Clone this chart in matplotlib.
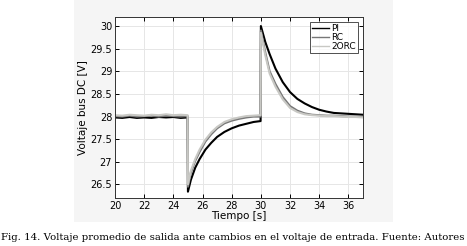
import matplotlib.pyplot as plt
from matplotlib.ticker import FormatStrFormatter

# time instants (s)
t_pi = [20, 20.5, 21, 21.5, 22, 22.5, 23, 23.5, 24, 24.5, 24.98, 25.0, 25.2, 25.5, 25.8,
        26.2, 26.6, 27.0, 27.5, 28.0, 28.5, 29.0, 29.5, 29.98, 30.0, 30.3, 30.6, 31.0,
        31.5, 32.0, 32.5, 33.0, 33.5, 34.0, 34.5, 35.0, 35.5, 36.0, 36.5, 37.0]
v_pi = [27.98, 27.97, 27.99, 27.97, 27.98, 27.97, 27.99, 27.98, 27.99, 27.97, 27.98, 26.34,
        26.60, 26.87, 27.06, 27.27, 27.42, 27.55, 27.66, 27.74, 27.80, 27.84, 27.88, 27.90,
        30.00, 29.65, 29.38, 29.06, 28.76, 28.54, 28.39, 28.29, 28.21, 28.15, 28.11, 28.08,
        28.07, 28.06, 28.05, 28.04]

t_rc = [20, 20.5, 21, 21.5, 22, 22.5, 23, 23.5, 24, 24.5, 24.98, 25.0, 25.2, 25.5, 25.8,
        26.2, 26.6, 27.0, 27.5, 28.0, 28.5, 29.0, 29.5, 29.98, 30.0, 30.3, 30.6, 31.0,
        31.5, 32.0, 32.5, 33.0, 33.5, 34.0, 34.5, 35.0, 35.5, 36.0, 36.5, 37.0]
v_rc = [28.01, 28.00, 28.02, 28.00, 28.01, 28.02, 28.00, 28.02, 28.01, 28.00, 28.01, 26.45,
        26.76, 27.02, 27.22, 27.45, 27.61, 27.74, 27.85, 27.91, 27.95, 27.98, 28.00, 28.00,
        29.90, 29.42, 29.00, 28.72, 28.43, 28.23, 28.13, 28.07, 28.04, 28.03, 28.02, 28.02,
        28.01, 28.00, 28.00, 27.99]

t_2orc = t_rc
v_2orc = [28.03, 28.02, 28.04, 28.03, 28.02, 28.04, 28.03, 28.05, 28.03, 28.04, 28.03, 26.50,
          26.80, 27.06, 27.27, 27.49, 27.65, 27.77, 27.88, 27.94, 27.98, 28.01, 28.02, 28.03,
          29.85, 29.36, 28.95, 28.66, 28.38, 28.19, 28.10, 28.05, 28.03, 28.02, 28.01, 28.01,
          28.00, 27.99, 27.99, 27.98]

labels = ['PI', 'RC', '2ORC']
colors = ['#000000', '#777777', '#c8c8c4']

fig = plt.figure(figsize=(4.67, 2.46), dpi=100)
fig.patch.set_facecolor('white')

# light gray panel behind the plot (exported matlab figure)
bg = fig.add_axes([74 / 467, 1 - 222 / 246, (393 - 74) / 467, 222 / 246], zorder=-5)
bg.set_facecolor('#f5f5f5')
bg.set_xticks([])
bg.set_yticks([])
for s in bg.spines.values():
    s.set_visible(False)

ax = fig.add_axes([115 / 467, 1 - 198 / 246, (363 - 115) / 467, (198 - 17) / 246])
ax.set_facecolor('white')

ax.plot(t_pi, v_pi, color=colors[0], lw=1.5, label=labels[0])
ax.plot(t_rc, v_rc, color=colors[1], lw=1.5, label=labels[1])
ax.plot(t_2orc, v_2orc, color=colors[2], lw=1.5, label=labels[2])

ax.set_xlim(20, 37)
ax.set_ylim(26.2, 30.2)
ax.set_xticks(range(20, 37, 2))
ax.set_yticks([26.5, 27, 27.5, 28, 28.5, 29, 29.5, 30])
ax.yaxis.set_major_formatter(FormatStrFormatter('%g'))
ax.grid(True, color='#e6e6e6', lw=0.7)
ax.set_axisbelow(True)
ax.tick_params(direction='in', top=True, right=True, length=3, width=0.7,
               labelsize=7, pad=2)
for s in ax.spines.values():
    s.set_linewidth(0.7)
    s.set_color('#333333')

ax.set_xlabel('Tiempo [s]', fontsize=7.5, labelpad=0)
ax.set_ylabel('Voltaje bus DC [V]', fontsize=7.5, labelpad=2)

leg = ax.legend(loc='upper right', fontsize=6.5, frameon=True, fancybox=False,
                edgecolor='black', handlelength=1.9, handletextpad=0.2,
                labelspacing=0.0, borderpad=0.2, borderaxespad=0.6)
leg.get_frame().set_linewidth(0.6)
for h in leg.get_lines():
    h.set_linewidth(1.0)

fig.text(1 / 467, 1 - 238 / 246, 'Fig. 14. Voltaje promedio de salida ante cambios en el voltaje de entrada. Fuente: Autores',
         fontsize=7.3, family='DejaVu Serif', va='center', ha='left')

fig.savefig('out.png', dpi=100)
